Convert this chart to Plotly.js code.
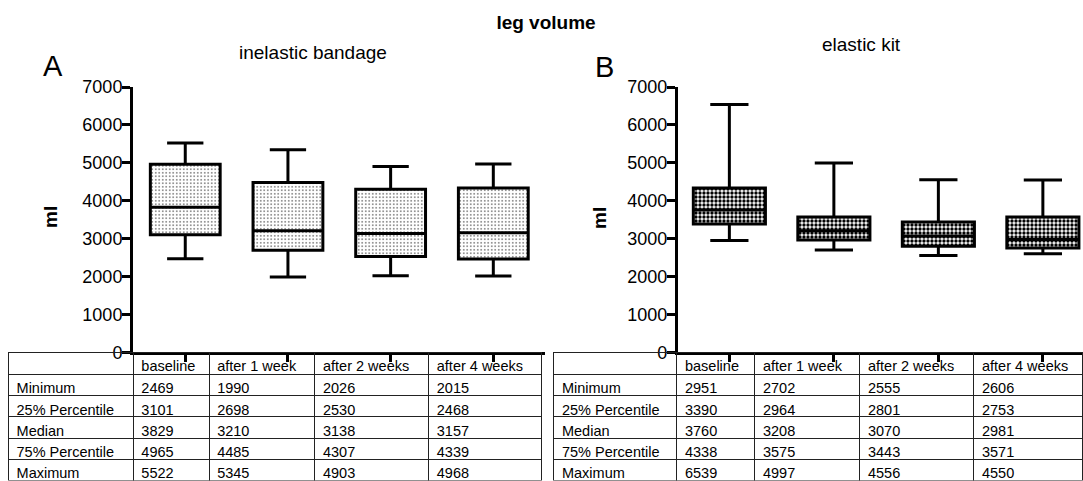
<!DOCTYPE html>
<html>
<head>
<meta charset="utf-8">
<script src="https://cdn.plot.ly/plotly-3.0.1.min.js"></script>
<style>html,body{margin:0;padding:0;background:#fff;}#chart{width:1083px;height:481px;}</style>
</head>
<body>
<div id="chart"></div>
<script>
const categories = ['baseline', 'after 1 week', 'after 2 weeks', 'after 4 weeks'];
const rowLabels = ['Minimum', '25% Percentile', 'Median', '75% Percentile', 'Maximum'];

// A: inelastic bandage
const inelasticMin = [2469, 1990, 2026, 2015];
const inelasticQ1 = [3101, 2698, 2530, 2468];
const inelasticMedian = [3829, 3210, 3138, 3157];
const inelasticQ3 = [4965, 4485, 4307, 4339];
const inelasticMax = [5522, 5345, 4903, 4968];

// B: elastic kit
const elasticMin = [2951, 2702, 2555, 2606];
const elasticQ1 = [3390, 2964, 2801, 2753];
const elasticMedian = [3760, 3208, 3070, 2981];
const elasticQ3 = [4338, 3575, 3443, 3571];
const elasticMax = [6539, 4997, 4556, 4550];

const FONT = 'Liberation Sans, Arial, sans-serif';

function boxTraces(q1, med, q3, mn, mx, xa, ya, pattern, bw, ww) {
  const fill = {
    type: 'bar', x: categories, base: q1, y: q3.map((v, i) => v - q1[i]),
    width: bw, xaxis: xa, yaxis: ya, hoverinfo: 'skip',
    marker: { color: 'white', line: { width: 0 }, pattern: pattern }
  };
  const box = {
    type: 'box', x: categories, q1: q1, median: med, q3: q3,
    lowerfence: mn, upperfence: mx, xaxis: xa, yaxis: ya,
    boxpoints: false, width: bw, whiskerwidth: ww,
    fillcolor: 'rgba(0,0,0,0)', line: { color: 'black', width: 3 }
  };
  return [fill, box];
}

function tableTrace(mn, q1, med, q3, mx, domainX, colw) {
  const cols = [rowLabels];
  for (let i = 0; i < categories.length; i++) {
    cols.push([mn[i], q1[i], med[i], q3[i], mx[i]]);
  }
  return {
    type: 'table', domain: { x: domainX, y: [0, 0.2672] },
    columnwidth: colw,
    header: {
      values: [''].concat(categories), align: 'left', height: 22,
      fill: { color: 'rgba(255,255,255,0)' },
      line: { color: '#222', width: 1 },
      font: { family: FONT, size: 14.5, color: 'black' }
    },
    cells: {
      values: cols, align: 'left', height: 21.2,
      fill: { color: 'rgba(255,255,255,0)' },
      line: { color: '#222', width: 1 },
      font: { family: FONT, size: 14.5, color: 'black' }
    }
  };
}

const dotPattern = { shape: '.', fgcolor: 'black', bgcolor: 'white', size: 3.5, solidity: 0.12 };
const checkPattern = { shape: '.', fgcolor: 'black', bgcolor: 'white', size: 4, solidity: 0.55 };

const data = []
  .concat(boxTraces(inelasticQ1, inelasticMedian, inelasticQ3, inelasticMin, inelasticMax, 'x', 'y', dotPattern, 0.68, 0.52))
  .concat(boxTraces(elasticQ1, elasticMedian, elasticQ3, elasticMin, elasticMax, 'x2', 'y2', checkPattern, 0.69, 0.53))
  .concat([
    tableTrace(inelasticMin, inelasticQ1, inelasticMedian, inelasticQ3, inelasticMax, [0.0079, 0.5002], [125, 76, 106, 114, 113]),
    tableTrace(elasticMin, elasticQ1, elasticMedian, elasticQ3, elasticMax, [0.5115, 1], [123, 78, 105, 114, 109])
  ]);

function xAxis(domain, range) {
  return {
    domain: domain, type: 'category', range: range, showticklabels: false,
    ticks: 'outside', ticklen: 7, tickwidth: 3, tickcolor: 'black',
    showline: true, linewidth: 3, linecolor: 'black', showgrid: false, zeroline: false,
    fixedrange: true
  };
}
function yAxis(domain, anchor) {
  return {
    domain: domain, anchor: anchor, range: [0, 7000], dtick: 1000, tick0: 0,
    ticks: 'outside', ticklen: 8, tickwidth: 3, tickcolor: 'black',
    ticklabelstandoff: -4,
    showline: true, linewidth: 3, linecolor: 'black', showgrid: false, zeroline: false,
    tickfont: { family: FONT, size: 18, color: 'black' }, fixedrange: true
  };
}

const layout = {
  width: 1083, height: 481,
  margin: { l: 0, r: 0, t: 0, b: 0 },
  paper_bgcolor: 'white', plot_bgcolor: 'white',
  showlegend: false, barmode: 'overlay', boxmode: 'overlay',
  font: { family: FONT, color: 'black' },
  title: {
    text: '<b>leg volume</b>', font: { family: FONT, size: 19, color: 'black' },
    x: 546 / 1083, xanchor: 'center', y: 1 - 22 / 481, yanchor: 'middle'
  },
  xaxis: Object.assign(xAxis([0.1228, 0.5032], [-0.509, 3.503]), { anchor: 'y' }),
  yaxis: yAxis([0.2672, 0.8191], 'x'),
  xaxis2: Object.assign(xAxis([0.626, 1], [-0.492, 3.384]), { anchor: 'y2' }),
  yaxis2: yAxis([0.2672, 0.8191], 'x2'),
  annotations: [
    { text: 'inelastic bandage', xref: 'paper', yref: 'paper', x: 313 / 1083, y: 1 - 52 / 481,
      xanchor: 'center', yanchor: 'middle', showarrow: false, font: { family: FONT, size: 19 } },
    { text: 'elastic kit', xref: 'paper', yref: 'paper', x: 861 / 1083, y: 1 - 45 / 481,
      xanchor: 'center', yanchor: 'middle', showarrow: false, font: { family: FONT, size: 19 } },
    { text: 'A', xref: 'paper', yref: 'paper', x: 53 / 1083, y: 1 - 66 / 481,
      xanchor: 'center', yanchor: 'middle', showarrow: false, font: { family: FONT, size: 29 } },
    { text: 'B', xref: 'paper', yref: 'paper', x: 604 / 1083, y: 1 - 67 / 481,
      xanchor: 'center', yanchor: 'middle', showarrow: false, font: { family: FONT, size: 29 } },
    { text: '<b>ml</b>', xref: 'paper', yref: 'paper', x: 51 / 1083, y: 1 - 217 / 481,
      xanchor: 'center', yanchor: 'middle', textangle: -90, showarrow: false, font: { family: FONT, size: 19 } },
    { text: '<b>ml</b>', xref: 'paper', yref: 'paper', x: 599 / 1083, y: 1 - 218 / 481,
      xanchor: 'center', yanchor: 'middle', textangle: -90, showarrow: false, font: { family: FONT, size: 19 } }
  ]
};

Plotly.newPlot('chart', data, layout, { displayModeBar: false, staticPlot: true });
</script>
</body>
</html>
